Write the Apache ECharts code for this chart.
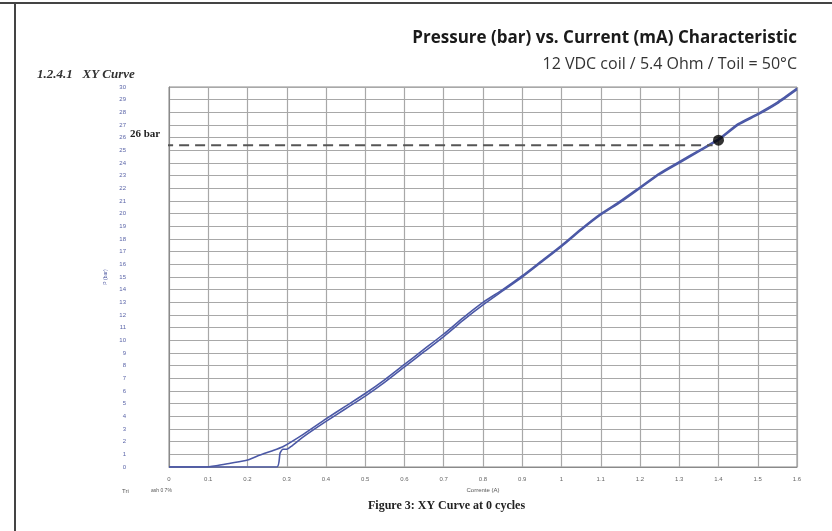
<!DOCTYPE html>
<html>
<head>
<meta charset="utf-8">
<script src="https://cdn.jsdelivr.net/npm/echarts@6/dist/echarts.min.js"></script>
<style>
html,body{margin:0;padding:0;background:#fff;}
#chart{width:832px;height:531px;}
</style>
</head>
<body>
<div id="chart"></div>
<script>
// Curve 1 (rises early from ~0.1 A)
const curveA = [
  [0, 0], [0.09, 0], [0.12, 0.1], [0.156, 0.3], [0.2, 0.55], [0.232, 0.95],
  [0.26, 1.25], [0.29, 1.6], [0.343, 2.6], [0.4, 3.8], [0.45, 4.8], [0.5, 5.8],
  [0.55, 6.9], [0.6, 8.1], [0.65, 9.3], [0.7, 10.5], [0.75, 11.8], [0.8, 13.0],
  [0.85, 14.0], [0.9, 15.1], [0.95, 16.3], [1.0, 17.5], [1.05, 18.8], [1.1, 20.0],
  [1.15, 21.0], [1.2, 22.1], [1.25, 23.2], [1.3, 24.1], [1.35, 25.0], [1.4, 25.9],
  [1.45, 27.1], [1.5, 27.9], [1.55, 28.8], [1.6, 29.9]
];
// Curve 2 (stays at 0 until ~0.27 A, then jumps)
const curveB = [
  [0, 0], [0.275, 0], [0.283, 1.1], [0.29, 1.4], [0.3, 1.4], [0.31, 1.6],
  [0.343, 2.4], [0.4, 3.6], [0.45, 4.6], [0.5, 5.6], [0.55, 6.7], [0.6, 7.9],
  [0.65, 9.1], [0.7, 10.3], [0.75, 11.6], [0.8, 12.8], [0.85, 13.9], [0.9, 15.0],
  [0.95, 16.2], [1.0, 17.4], [1.05, 18.7], [1.1, 19.9], [1.15, 20.9], [1.2, 22.0],
  [1.25, 23.1], [1.3, 24.0], [1.35, 24.9], [1.4, 25.8], [1.45, 27.0], [1.5, 27.8],
  [1.55, 28.7], [1.6, 29.8]
];
// Reference line at 26 bar and marked point
const refLine = [[-0.015, 25.4], [1.385, 25.4]];
const refPoint = [[1.4, 25.8]];

const titleText = 'Pressure (bar) vs. Current (mA) Characteristic';
const subtitleText = '12 VDC coil / 5.4 Ohm / Toil = 50°C';
const sectionText = '1.2.4.1   XY Curve';
const captionText = 'Figure 3: XY Curve at 0 cycles';
const refLabel = '26 bar';
const xName = 'Corrente (A)';
const yName = 'P (bar)';

const chart = echarts.init(document.getElementById('chart'), null, {renderer: 'canvas'});
const lineColor = '#4b58a6';

chart.setOption({
  backgroundColor: '#fff',
  animation: false,
  grid: {left: 169, right: 35, top: 87, bottom: 64, show: true, borderColor: '#8a8a8a', borderWidth: 1},
  xAxis: {
    type: 'value', min: 0, max: 1.6, interval: 0.1,
    name: xName, nameLocation: 'middle', nameGap: 19,
    nameTextStyle: {fontSize: 6, color: '#555', fontFamily: 'Liberation Sans'},
    axisLine: {show: true, lineStyle: {color: '#8a8a8a'}},
    axisTick: {show: false},
    axisLabel: {fontSize: 6, color: '#666', margin: 9, fontFamily: 'Liberation Sans',
      formatter: v => String(Math.round(v * 10) / 10)},
    splitLine: {show: true, lineStyle: {color: '#a8a8a8', width: 1.2}}
  },
  yAxis: {
    type: 'value', min: 0, max: 30, interval: 1,
    name: yName, nameLocation: 'middle', nameGap: 60, nameRotate: 90,
    nameTextStyle: {fontSize: 5, color: '#5a64a8', fontFamily: 'Liberation Sans'},
    axisLine: {show: true, lineStyle: {color: '#8a8a8a'}},
    axisTick: {show: false},
    axisLabel: {fontSize: 6, color: '#5a64a8', margin: 43, fontFamily: 'Liberation Sans'},
    splitLine: {show: true, lineStyle: {color: '#a8a8a8', width: 1.2}}
  },
  title: [
    {text: titleText, right: 30, top: 25,
      textStyle: {fontFamily: 'Open Sans', fontWeight: 'bold', fontSize: 17, color: '#1a1a1a'}},
    {text: subtitleText, right: 30, top: 51,
      textStyle: {fontFamily: 'Open Sans', fontWeight: 'normal', fontSize: 16, color: '#333'}}
  ],
  graphic: [
    {type: 'line', shape: {x1: 0, y1: 3, x2: 832, y2: 3}, style: {stroke: '#444', lineWidth: 2}},
    {type: 'line', shape: {x1: 15, y1: 3, x2: 15, y2: 531}, style: {stroke: '#444', lineWidth: 2}},
    {type: 'text', left: 37, top: 68, style: {text: sectionText, font: 'italic bold 13px "Liberation Serif"', fill: '#333'}},
    {type: 'text', left: 130, top: 129, style: {text: refLabel, font: 'bold 11px "Liberation Serif"', fill: '#222'}},
    {type: 'text', left: 368, top: 500, style: {text: captionText, font: 'bold 12px "Liberation Serif"', fill: '#222'}},
    {type: 'text', left: 122, top: 488, style: {text: 'Tri', font: '6px "Liberation Sans"', fill: '#555'}},
    {type: 'text', left: 151, top: 488, style: {text: 'ash 0 7%', font: '5px "Liberation Sans"', fill: '#555'}}
  ],
  series: [
    {type: 'line', data: curveA, showSymbol: false, smooth: 0.2,
      lineStyle: {color: lineColor, width: 1.6}, z: 3},
    {type: 'line', data: curveB, showSymbol: false, smooth: 0.2,
      lineStyle: {color: lineColor, width: 1.6}, z: 3},
    {type: 'line', data: refLine, showSymbol: false, clip: false,
      lineStyle: {color: '#555', width: 2, type: [10, 6]}, z: 4},
    {type: 'scatter', data: refPoint, symbolSize: 11, itemStyle: {color: '#000'}, z: 5}
  ]
});
</script>
</body>
</html>
